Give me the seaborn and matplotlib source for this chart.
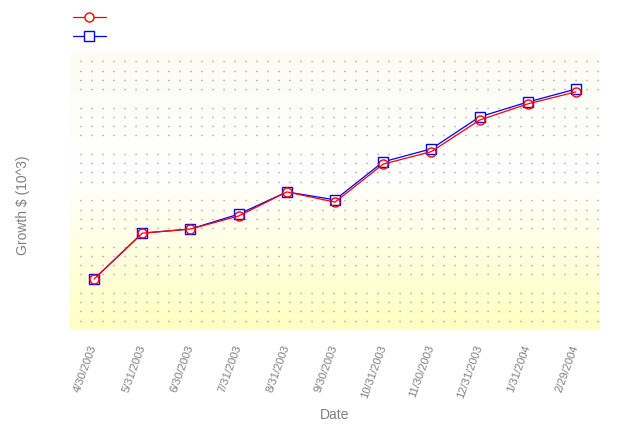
import numpy as np
import pandas as pd
import matplotlib
matplotlib.use("Agg")
import matplotlib.pyplot as plt
import seaborn as sns
from matplotlib.colors import LinearSegmentedColormap
from matplotlib.lines import Line2D
from matplotlib.ticker import MultipleLocator

# data
dates = ["4/30/2003", "5/31/2003", "6/30/2003", "7/31/2003", "8/31/2003", "9/30/2003",
         "10/31/2003", "11/30/2003", "12/31/2003", "1/31/2004", "2/29/2004"]
series_a = [11.0, 20.9, 21.8, 24.6, 29.8, 27.6, 35.8, 38.5, 45.3, 48.8, 51.4]
series_b = [11.0, 20.9, 21.8, 25.0, 29.8, 28.1, 36.3, 39.1, 46.0, 49.2, 52.0]
series_names = ["Series A", "Series B"]

sns.set_theme(style="white")
plt.rcParams["font.family"] = ["Liberation Sans", "DejaVu Sans"]
plt.rcParams["lines.scale_dashes"] = False

df = pd.DataFrame({
    "Date": dates * 2,
    "Growth": series_a + series_b,
    "Series": [series_names[0]] * len(dates) + [series_names[1]] * len(dates),
})

fig = plt.figure(figsize=(6.3, 4.36), dpi=100)
ax = fig.add_axes([70 / 630, 106 / 436, 530 / 630, 278 / 436])

# background gradient: faint at top, white in the middle, yellow at bottom
cmap = LinearSegmentedColormap.from_list(
    "bg", [(0.0, "#ffffc2"), (0.55, "#ffffff"), (1.0, "#fcfcf3")])
grad = np.linspace(0, 1, 256).reshape(-1, 1)
ax.imshow(grad, aspect="auto", cmap=cmap, origin="lower",
          extent=(-0.5, 10.5, 0, 60), zorder=0)

red, blue = "#ff0000", "#0000ff"

# blue first, red on top
sns.lineplot(data=df[df["Series"] == series_names[1]], x="Date", y="Growth",
             color=blue, marker="s", markersize=7,
             markerfacecolor="white", markeredgecolor=blue, markeredgewidth=1,
             linewidth=0.9, sort=False, ax=ax, zorder=3)
sns.lineplot(data=df[df["Series"] == series_names[0]], x="Date", y="Growth",
             color=red, marker="o", markersize=6.5,
             markerfacecolor="none", markeredgecolor=red, markeredgewidth=1,
             linewidth=0.9, sort=False, ax=ax, zorder=4)

ax.set_xlim(-0.5, 10.5)
ax.set_ylim(0, 60)
ax.yaxis.set_major_locator(MultipleLocator(10))
ax.yaxis.set_minor_locator(MultipleLocator(2))

# dotted grid: minor horizontal lines drawn as dots, about 11 px apart
ax.grid(False)
ax.yaxis.grid(True, which="minor", color="#8c8c8c", linewidth=1.0,
              linestyle=(0.72, (0.8, 7.12)))
ax.set_axisbelow(False)
for s in ax.spines.values():
    s.set_visible(False)

ax.tick_params(axis="y", which="both", left=False, labelleft=False)
ax.tick_params(axis="x", bottom=False, pad=5)
ax.set_xticks(range(len(dates)))
ax.set_xticklabels(dates, rotation=70, ha="right", va="center",
                   rotation_mode="anchor", fontsize=8, color="#808080")

ax.set_xlabel("Date", fontsize=10, color="#808080")
ax.xaxis.set_label_coords(0.5, -0.28)
ax.set_ylabel("Growth $ (10^3)", fontsize=10, color="#808080")
ax.yaxis.set_label_coords(-0.075, 0.45)

handles = [
    Line2D([], [], color=red, marker="o", markersize=6.5, markerfacecolor="white",
           linewidth=0.9),
    Line2D([], [], color=blue, marker="s", markersize=7, markerfacecolor="white",
           linewidth=0.9),
]
fig.legend(handles, ["", ""], loc="upper left", bbox_to_anchor=(70 / 630, 1 - 10 / 436),
           frameon=False, handlelength=2.7, fontsize=9, labelspacing=0.55,
           borderaxespad=0, borderpad=0.2, handletextpad=0)

fig.savefig("out.png", dpi=100, facecolor="white")
